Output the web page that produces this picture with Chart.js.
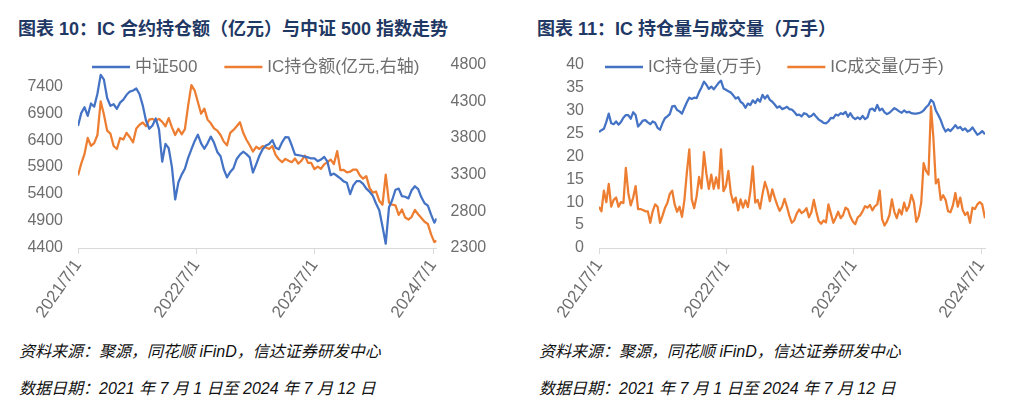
<!DOCTYPE html>
<html>
<head>
<meta charset="utf-8">
<script src="https://cdn.jsdelivr.net/npm/chart.js@4.4.0/dist/chart.umd.min.js"></script>
<style>
  body { margin: 0; background: #fff; width: 1013px; height: 414px; position: relative; overflow: hidden; }
  .title { position: absolute; top: 19px; font: bold 18px/20px "Liberation Sans", "Noto Sans CJK SC", sans-serif; color: #1f3864; white-space: nowrap; }
  .note { position: absolute; font: italic 16px/18px "Liberation Sans", "Noto Sans CJK SC", sans-serif; color: #111; white-space: nowrap; }
  canvas { position: absolute; top: 40px; }
</style>
</head>
<body>
<div class="title" style="left:18px">图表 10：IC 合约持仓额（亿元）与中证 500 指数走势</div>
<div class="title" style="left:537px">图表 11：IC 持仓量与成交量（万手）</div>
<canvas id="amountChart" width="506" height="295" style="left:0"></canvas>
<canvas id="volumeChart" width="507" height="295" style="left:506px"></canvas>
<div class="note" style="left:19px;top:343px">资料来源：聚源，同花顺 iFinD，信达证券研发中心</div>
<div class="note" style="left:19px;top:380px">数据日期：2021 年 7 月 1 日至 2024 年 7 月 12 日</div>
<div class="note" style="left:539px;top:343px">资料来源：聚源，同花顺 iFinD，信达证券研发中心</div>
<div class="note" style="left:539px;top:380px">数据日期：2021 年 7 月 1 日至 2024 年 7 月 12 日</div>
<script>
// x axis: days since 2021/7/1, last point 2024/7/12
const tickDays = [0, 365, 730, 1096];
const tickLabels = ['2021/7/1', '2022/7/1', '2023/7/1', '2024/7/1'];
const lastDay = 1107;

// chart 10, one value every 10 days (last one on 2024/7/12)
const csi500 = [
  6660, 6900, 7010, 6850, 7080, 7020, 7260, 7610, 7520, 7180,
  7035, 7065, 6980, 7095, 7150, 7240, 7300, 7320, 7356, 7250,
  7040, 6760, 6610, 6670, 6800, 6600, 6000, 6330, 6250, 5900,
  5300, 5620, 5760, 5870, 6070, 6230, 6380, 6500, 6340, 6240,
  6340, 6465, 6350, 6180, 6100, 5860, 5710, 5810, 5880, 6050,
  6130, 6185, 6140, 6080, 5800, 5950, 6110, 6230, 6300, 6330,
  6400, 6260, 6230, 6360, 6455, 6450, 6300, 6130, 6120, 6110,
  6095, 6080, 6060, 6060, 6010, 6040, 6090, 6000, 5750, 5780,
  5735, 5690, 5635, 5610, 5400, 5560, 5640, 5640, 5590, 5500,
  5445, 5370, 5225, 5100, 4800, 4480, 5150, 5290, 5480, 5500,
  5360, 5350, 5320, 5470, 5545, 5490, 5340, 5230, 5185, 5020, 4870,
  4945
];
const icAmount = [
  3290, 3450, 3580, 3800, 3692, 3730, 3840, 4300, 4120, 3900,
  3860, 3690, 3650, 3800, 3778, 3870, 3810, 3740, 3930, 3980,
  4010, 3960, 4050, 4060, 4036, 4060, 4020, 3960, 4070, 3945,
  3840, 3925, 3850, 3920, 4240, 4520, 4450, 4290, 4130, 4200,
  4050, 4000, 3930, 3900, 3840, 3750, 3700, 3870, 3910, 3960,
  4014, 3870, 3775, 3700, 3615, 3680, 3650, 3690, 3670, 3650,
  3690, 3570, 3510, 3470, 3515, 3490, 3470, 3520, 3450, 3490,
  3560, 3460, 3460, 3375, 3410, 3380, 3440, 3470, 3505, 3445,
  3620, 3360, 3365, 3330, 3340, 3370, 3370, 3290, 3245, 3280,
  3120, 3055, 3070, 2945, 2890, 3300, 2920, 2890, 2880, 2750,
  2825, 2715, 2688, 2725, 2820, 2760, 2708, 2657, 2628, 2485, 2380,
  2400
];
const indexTicks = [4400, 4900, 5400, 5900, 6400, 6900, 7400];
const amountTicks = [2300, 2800, 3300, 3800, 4300, 4800];

// chart 11, one value every 7 days
const openInterest = [
  25.3, 25.7, 26.0, 27.5, 29.3, 27.2, 27.0, 27.6, 26.9, 27.5,
  28.4, 29.0, 29.0, 28.2, 29.6, 29.0, 26.5, 27.1, 27.8, 27.9,
  27.4, 27.0, 27.6, 27.3, 26.2, 25.8, 27.2, 28.3, 28.7, 29.2,
  30.9, 31.0, 30.1, 29.8, 29.3, 30.6, 31.8, 32.8, 32.5, 32.8,
  32.7, 34.0, 35.0, 36.3, 35.6, 34.7, 35.2, 34.6, 35.3, 36.0,
  36.5, 34.8, 34.5, 34.2, 33.9, 33.3, 32.6, 32.9, 31.9, 31.5,
  30.6, 31.5, 31.2, 32.2, 31.6, 32.5, 31.9, 33.4, 32.6, 33.3,
  32.3, 31.9, 31.3, 30.6, 30.9, 30.3, 30.5, 30.8, 30.3, 30.2,
  29.7, 29.0, 29.1, 28.7, 29.4, 29.2, 28.6, 28.8, 29.3, 28.6,
  28.0, 27.7, 27.3, 27.2, 27.6, 28.4, 28.3, 29.1, 28.9, 29.4,
  29.2, 29.7, 28.6, 29.4, 28.5, 28.1, 28.5, 28.1, 28.8, 28.1,
  28.5, 30.2, 30.4, 29.9, 31.2, 30.0, 30.4, 29.6, 29.2, 29.5,
  30.0, 30.5, 30.2, 29.8, 29.5, 30.0, 29.6, 29.7, 29.4, 29.3,
  29.3, 29.4, 29.6, 30.0, 30.7, 31.2, 32.3, 31.8, 30.0, 29.0,
  27.9, 26.4, 25.4, 25.9, 25.5, 26.1, 26.8, 26.1, 26.4, 25.7,
  26.1, 25.4, 25.7, 26.3, 25.5, 24.7, 25.0, 25.5, 24.8
];
const tradeVolume = [
  9.0, 8.0, 12.5, 10.0, 14.0, 9.0, 10.5, 11.0, 9.0, 10.0,
  9.8, 17.5, 12.0, 9.3, 11.0, 13.5, 8.5, 8.5, 8.3, 8.0,
  8.0, 5.5, 8.0, 9.5, 9.0, 5.5, 7.0, 8.7, 9.8, 11.8,
  12.5, 9.5, 7.9, 9.0, 6.8, 10.5, 16.5, 21.5, 10.6, 8.7,
  11.3, 15.5, 13.0, 20.9, 16.2, 12.9, 16.0, 12.9, 15.4, 13.0,
  21.5, 12.4, 13.5, 16.8, 12.0, 9.9, 11.0, 8.2, 10.6, 8.8,
  10.4, 8.9, 12.3, 17.8, 9.9, 10.5, 8.6, 11.8, 14.4, 12.7,
  10.2, 12.8, 11.0, 9.4, 8.1, 9.0, 10.7, 9.0, 7.0, 5.5,
  6.0, 7.5, 8.4, 7.6, 8.0, 8.7, 6.7, 7.8, 10.5, 8.0,
  5.9, 5.3, 6.0, 5.6, 9.5, 7.5, 5.5, 6.6, 7.9, 6.5,
  7.2, 8.8, 8.4, 6.8, 5.8, 5.2, 6.7, 7.1, 8.0, 9.1,
  8.8, 9.4, 8.2, 9.1, 9.5, 12.5, 6.3, 4.9, 5.8, 7.2,
  10.6, 7.9, 6.5, 8.4, 7.3, 9.9, 8.1, 9.1, 11.6, 10.0,
  5.7, 6.9, 9.8, 18.5, 16.8, 16.0, 30.9, 24.0, 14.1, 15.0,
  10.5, 11.5, 10.5, 8.0, 7.8, 9.3, 12.0, 9.0, 11.0, 8.3,
  7.2, 7.8, 5.5, 8.8, 8.5, 9.5, 10.0, 9.5, 6.5
];
const lotTicks = [0, 5, 10, 15, 20, 25, 30, 35, 40];

const blue = '#4472c4';
const orange = '#ed7d31';
const tickColor = '#6e6e6e';
const axisColor = '#d9d9d9';
const fontFamily = '"Liberation Sans", "Noto Sans CJK SC", sans-serif';
const tickFont = { family: fontFamily, size: 16 };

function sampleDays(values, step) {
  return values.map((v, i) => (i === values.length - 1 ? lastDay : i * step));
}

// legend drawn as plain line + text inside the plot, like the Excel original
const lineLegend = {
  id: 'lineLegend',
  afterDraw(chart, args, opts) {
    const ctx = chart.ctx;
    let x = opts.x;
    ctx.save();
    ctx.font = '17px ' + fontFamily;
    ctx.textBaseline = 'middle';
    chart.data.datasets.forEach(ds => {
      ctx.strokeStyle = ds.borderColor;
      ctx.lineWidth = 2.5;
      ctx.beginPath();
      ctx.moveTo(x, opts.y);
      ctx.lineTo(x + 38, opts.y);
      ctx.stroke();
      ctx.fillStyle = tickColor;
      ctx.fillText(ds.label, x + 43, opts.y);
      x += 43 + ctx.measureText(ds.label).width + opts.gap;
    });
    ctx.restore();
  }
};

function dateAxis() {
  return {
    type: 'linear',
    min: 0,
    max: lastDay,
    afterBuildTicks: s => { s.ticks = tickDays.map(v => ({ value: v })); },
    afterFit: s => { s.height = 87; },
    ticks: {
      autoSkip: false,
      minRotation: 55,
      maxRotation: 55,
      padding: 2,
      color: tickColor,
      font: { family: fontFamily, size: 17 },
      callback: v => tickLabels[tickDays.indexOf(v)]
    },
    grid: { drawOnChartArea: false, drawTicks: true, tickLength: 6, color: axisColor },
    border: { color: axisColor, width: 1 }
  };
}

function valueAxis(ticks, position, width) {
  return {
    type: 'linear',
    position: position,
    min: ticks[0],
    afterBuildTicks: s => { s.ticks = ticks.map(v => ({ value: v })); },
    afterFit: s => { s.width = width; },
    ticks: { color: tickColor, font: tickFont, padding: 15, callback: v => String(v) },
    grid: { display: false, drawTicks: false },
    border: { display: false }
  };
}

function lineSet(label, data, color, axis) {
  return {
    label: label,
    data: data,
    yAxisID: axis,
    borderColor: color,
    backgroundColor: color,
    borderWidth: 2.25,
    pointRadius: 0,
    tension: 0,
    borderJoinStyle: 'round'
  };
}

const leftY = valueAxis(indexTicks, 'left', 78);
leftY.max = 7800;
const rightY = valueAxis(amountTicks, 'right', 69.4);
rightY.max = 4800;
rightY.ticks.padding = 14;

new Chart(document.getElementById('amountChart'), {
  type: 'line',
  data: {
    labels: sampleDays(csi500, 10),
    datasets: [
      lineSet('中证500', csi500, blue, 'y'),
      lineSet('IC持仓额(亿元,右轴)', icAmount, orange, 'y1')
    ]
  },
  options: {
    responsive: false,
    animation: false,
    layout: { padding: { top: 14, left: 0, right: 0, bottom: 0 } },
    scales: { x: dateAxis(), y: leftY, y1: rightY },
    plugins: {
      legend: { display: false },
      tooltip: { enabled: false },
      lineLegend: { x: 92, y: 27, gap: 27 }
    }
  },
  plugins: [lineLegend]
});

const lotY = valueAxis(lotTicks, 'left', 93);
lotY.max = 40;

new Chart(document.getElementById('volumeChart'), {
  type: 'line',
  data: {
    labels: sampleDays(openInterest, 7),
    datasets: [
      lineSet('IC持仓量(万手)', openInterest, blue, 'y'),
      lineSet('IC成交量(万手)', tradeVolume, orange, 'y')
    ]
  },
  options: {
    responsive: false,
    animation: false,
    layout: { padding: { top: 14, left: 0, right: 28, bottom: 0 } },
    scales: { x: dateAxis(), y: lotY },
    plugins: {
      legend: { display: false },
      tooltip: { enabled: false },
      lineLegend: { x: 99, y: 27, gap: 26 }
    }
  },
  plugins: [lineLegend]
});
</script>
</body>
</html>
